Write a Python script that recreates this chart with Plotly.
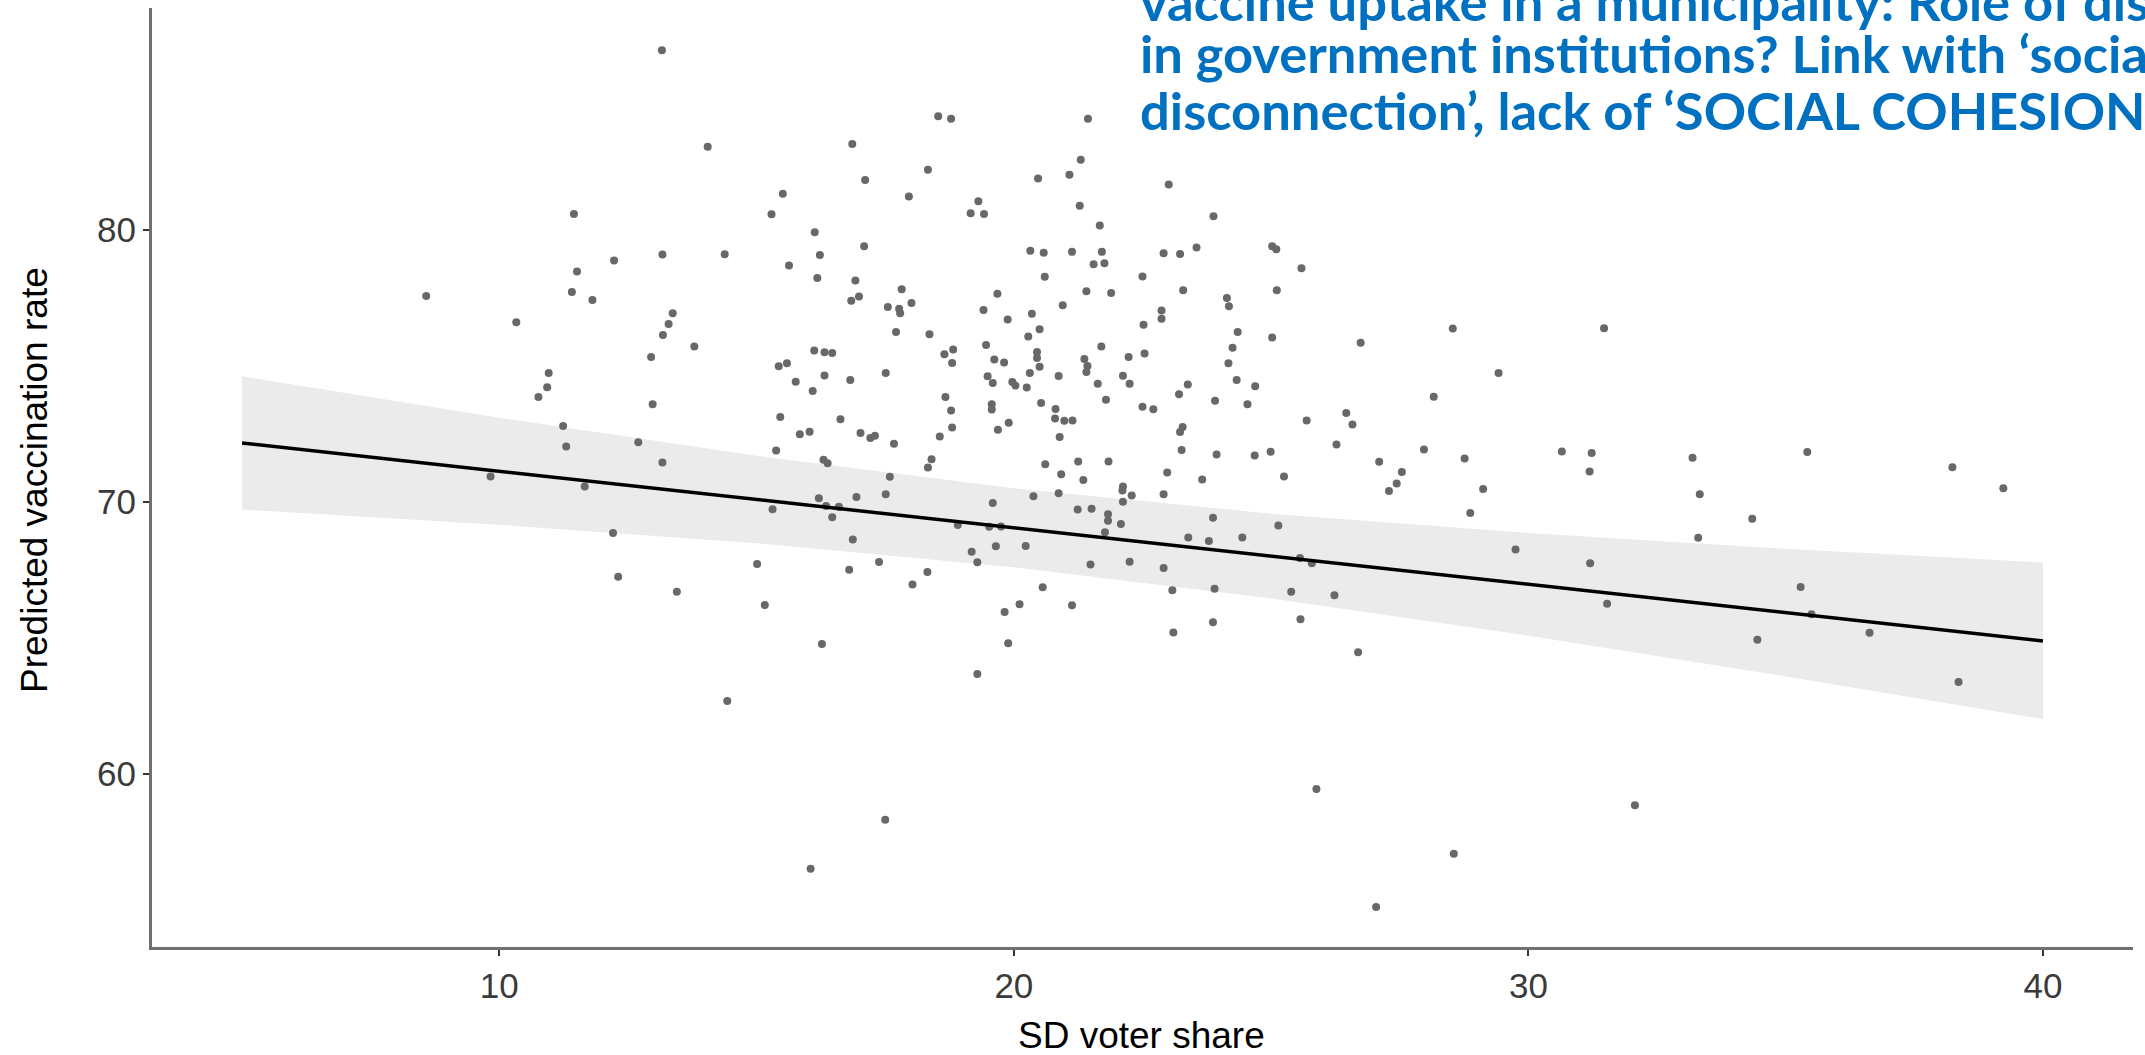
import plotly.graph_objects as go

# ---- data ----
sd_share = [
    11.45, 12.23, 11.51, 11.41, 11.81, 8.58, 10.33, 10.96, 10.93, 10.76, 11.24, 11.30, 9.83, 11.66, 12.21, 12.31,
    13.16, 14.05, 16.86, 17.11, 18.33, 17.96, 15.51, 15.29, 16.13, 17.09, 13.17, 14.38, 16.23, 15.63, 16.18, 16.92,
    17.82, 16.84, 16.99, 17.55, 17.77, 17.79, 18.01, 17.71, 18.36, 13.37, 13.29, 13.18, 13.79, 12.95, 16.12, 16.32,
    16.47, 15.43, 15.59, 16.32, 15.76, 16.82, 17.51, 16.09, 12.98, 15.46, 16.63, 15.84, 16.03, 17.02, 17.21, 17.30,
    17.67, 12.70, 15.38, 16.30, 16.38, 13.17, 18.33, 17.59, 16.94, 17.51, 16.21, 16.35, 16.60, 15.31, 16.47, 16.87,
    15.01, 16.80, 17.38, 18.03, 18.32, 13.45,
    18.53, 18.78, 21.44, 21.30, 20.47, 21.08, 23.01, 19.31, 19.16, 19.42, 21.28, 21.67, 23.88, 20.32, 20.58, 21.13,
    21.71, 21.55, 21.76, 22.91, 23.23, 23.55, 20.60, 22.50, 21.41, 21.89, 23.29, 19.68, 19.41, 20.95, 19.88, 20.35,
    20.50, 20.28, 22.52, 22.87, 22.87, 24.14, 24.18, 24.35, 24.25, 24.17, 24.33, 18.65, 18.82, 18.80, 19.46, 19.62,
    19.81, 20.45, 20.45, 20.50, 20.31, 19.49, 19.59, 19.97, 20.03, 20.25, 20.87, 21.37, 21.43, 21.41, 21.70, 21.63,
    22.23, 22.12, 22.25, 22.54, 21.79, 18.67, 18.78, 18.80, 18.56, 19.57, 19.57, 20.53, 20.81, 20.80, 20.98, 21.14,
    19.69, 19.90, 20.89, 22.50, 22.71, 23.21, 23.38, 23.91, 23.28, 23.23, 23.26, 23.94, 24.54, 20.61, 21.25, 21.84,
    20.92, 21.35, 22.98, 23.66, 19.59, 20.38, 20.87, 22.12, 22.11, 22.29, 22.12, 22.91, 21.24, 21.51, 21.83, 21.83,
    22.08, 21.77, 18.91, 19.52, 19.75, 23.87, 24.44, 23.39, 23.79, 19.18, 19.29, 19.65, 20.23, 21.49, 22.25, 22.91,
    20.56, 23.08, 23.90, 18.40,
    25.02, 25.10, 25.59, 25.11, 25.02, 26.74, 28.53, 29.42, 24.69, 25.69, 26.46, 26.58, 28.16, 24.68, 24.99, 25.25,
    26.27, 27.10, 27.54, 27.44, 27.29, 27.97, 28.76, 29.12, 28.87, 25.14, 25.56, 25.79, 29.75, 25.39, 26.23,
    31.47, 30.65, 31.23, 31.19, 33.19, 33.33, 34.35, 35.42, 38.24, 39.23, 31.20, 31.53, 33.30, 35.29, 34.45, 36.63,
    38.36, 32.07, 35.50,
    15.16, 16.27, 14.43, 16.05,
    25.57, 26.69, 23.87, 23.10, 21.13, 20.11, 19.82, 19.89, 19.29, 17.50, 25.88, 28.55, 27.04,
]
vacc_rate = [
    80.59, 78.88, 78.48, 77.72, 77.43, 77.58, 76.61, 74.74, 74.22, 73.86, 72.79, 72.04, 70.94, 70.57, 68.86, 67.25,
    86.62, 83.07, 83.17, 81.84, 82.22, 81.24, 81.34, 80.58, 79.92, 79.41, 79.10, 79.11, 79.08, 78.70, 78.24, 78.15,
    77.82, 77.40, 77.56, 77.17, 77.11, 76.94, 77.32, 76.25, 76.17, 76.94, 76.55, 76.14, 75.72, 75.33, 75.57, 75.51,
    75.48, 74.99, 75.10, 74.65, 74.42, 74.49, 74.74, 74.08, 73.59, 73.13, 73.04, 72.49, 72.58, 72.54, 72.35, 72.44,
    72.14, 72.20, 71.89, 71.55, 71.42, 71.45, 71.27, 70.93, 70.18, 70.28, 70.14, 69.85, 69.82, 69.73, 69.44, 68.62,
    67.72, 67.51, 67.79, 66.96, 67.42, 66.70,
    84.19, 84.10, 84.10, 82.59, 81.90, 82.04, 81.68, 81.06, 80.62, 80.59, 80.90, 80.17, 80.51, 79.24, 79.17, 79.20,
    79.20, 78.74, 78.78, 79.15, 79.12, 79.36, 78.28, 78.29, 77.75, 77.69, 77.79, 77.66, 77.06, 77.24, 76.71, 76.92,
    76.35, 76.09, 76.52, 77.04, 76.74, 77.50, 77.20, 76.25, 75.67, 75.10, 74.49, 75.43, 75.61, 75.11, 75.77, 75.24,
    75.13, 75.52, 75.30, 74.97, 74.74, 74.62, 74.38, 74.41, 74.28, 74.21, 74.63, 75.26, 75.00, 74.78, 75.72, 74.35,
    75.33, 74.64, 74.35, 75.46, 73.76, 73.86, 73.36, 72.74, 72.41, 73.59, 73.40, 73.64, 73.42, 73.07, 72.99, 73.00,
    72.66, 72.91, 72.39, 73.50, 73.41, 73.96, 74.32, 73.72, 72.76, 72.57, 71.91, 71.75, 73.59, 71.39, 71.49, 71.49,
    71.02, 70.81, 71.08, 70.83, 69.96, 70.21, 70.32, 70.57, 70.42, 70.24, 70.01, 70.28, 69.72, 69.75, 69.55, 69.31,
    69.19, 68.89, 69.15, 69.09, 69.10, 69.42, 68.69, 68.69, 68.56, 68.17, 67.78, 68.37, 68.38, 67.70, 67.80, 67.57,
    66.86, 66.75, 66.81, 71.57,
    79.41, 79.30, 78.60, 77.79, 76.05, 75.86, 76.38, 74.74, 74.26, 73.00, 73.27, 72.85, 73.87, 71.71, 71.85, 70.94,
    72.11, 71.48, 71.10, 70.68, 70.40, 71.93, 71.60, 70.48, 69.59, 69.13, 67.94, 67.75, 68.25, 66.70, 66.57,
    76.39, 71.86, 71.80, 71.12, 71.63, 70.28, 69.38, 71.84, 71.28, 70.50, 67.75, 66.26, 68.68, 66.87, 64.93, 65.19,
    63.38, 58.84, 65.87,
    66.21, 64.78, 62.68, 56.51,
    65.69, 64.47, 65.58, 65.20, 66.20, 66.24, 65.95, 64.80, 63.67, 58.31, 59.44, 57.06, 55.10,
]

fit_x = [5, 10, 15, 20, 25, 30, 35, 40]
fit_y = [72.17, 71.13, 70.09, 69.05, 68.01, 66.97, 65.93, 64.89]
ci_upper = [74.62, 73.10, 71.70, 70.50, 69.57, 68.86, 68.28, 67.77]
ci_lower = [69.72, 69.16, 68.48, 67.60, 66.45, 65.08, 63.58, 62.01]

x_ticks = [10, 20, 30, 40]
y_ticks = [60, 70, 80]

x_title = "SD voter share"
y_title = "Predicted vaccination rate"
headline_lines = [
    "vaccine uptake in a municipality: Role of distrust",
    "in government institutions? Link with \u2018social",
    "disconnection\u2019, lack of \u2018SOCIAL COHESION\u2019",
]

# ---- figure geometry ----
W, H = 2145, 1055
ML, MR, MT, MB = 152, 12, 8, 108
PW, PH = W - ML - MR, H - MT - MB


def px_x(px):
    return (px - ML) / PW


def px_y(py):
    return (H - MB - py) / PH


fig = go.Figure()

# confidence band
fig.add_trace(go.Scatter(
    x=fit_x + fit_x[::-1],
    y=ci_upper + ci_lower[::-1],
    fill="toself", fillcolor="#ebebeb",
    line=dict(width=0), mode="lines", hoverinfo="skip", showlegend=False,
))

# points
fig.add_trace(go.Scatter(
    x=sd_share, y=vacc_rate, mode="markers",
    marker=dict(size=8, color="#686868", line=dict(width=0)),
    showlegend=False,
))

# fitted line
fig.add_trace(go.Scatter(
    x=fit_x, y=fit_y, mode="lines",
    line=dict(color="black", width=3.5), showlegend=False,
))

axis_common = dict(
    showgrid=False, zeroline=False, showline=True, linecolor="#707070", linewidth=3,
    ticks="outside", ticklen=6, tickwidth=2, tickcolor="#333333",
    tickfont=dict(family="Liberation Sans, Arial, sans-serif", size=35, color="#3a3a3a"),
)

fig.update_xaxes(range=[3.25, 41.75], tickvals=x_ticks, **axis_common)
fig.update_yaxes(range=[53.63, 88.17], tickvals=y_ticks, **axis_common)

annotations = [
    dict(text=y_title, x=px_x(34), y=px_y(480), xref="paper", yref="paper",
         textangle=-90, showarrow=False, xanchor="center", yanchor="middle",
         font=dict(family="Liberation Sans, Arial, sans-serif", size=37, color="black")),
    dict(text=x_title, x=px_x(1141), y=px_y(1035), xref="paper", yref="paper",
         showarrow=False, xanchor="center", yanchor="middle",
         font=dict(family="Liberation Sans, Arial, sans-serif", size=37, color="black")),
]
title_mid_px = [0, 52, 109]
for line, ypx in zip(headline_lines, title_mid_px):
    annotations.append(dict(
        text="<b>" + line + "</b>", x=px_x(1138), y=px_y(ypx), xref="paper", yref="paper",
        showarrow=False, xanchor="left", yanchor="middle",
        font=dict(family="Lato, sans-serif", size=52.5, color="#0070c0"),
    ))

fig.update_layout(
    width=W, height=H,
    margin=dict(l=ML, r=MR, t=MT, b=MB, pad=0),
    paper_bgcolor="white", plot_bgcolor="white",
    annotations=annotations,
    showlegend=False,
)

fig.write_html(
    "out.html",
    config={"displayModeBar": False},
    post_script="document.body.style.margin='0px';document.body.style.overflow='hidden';",
)
